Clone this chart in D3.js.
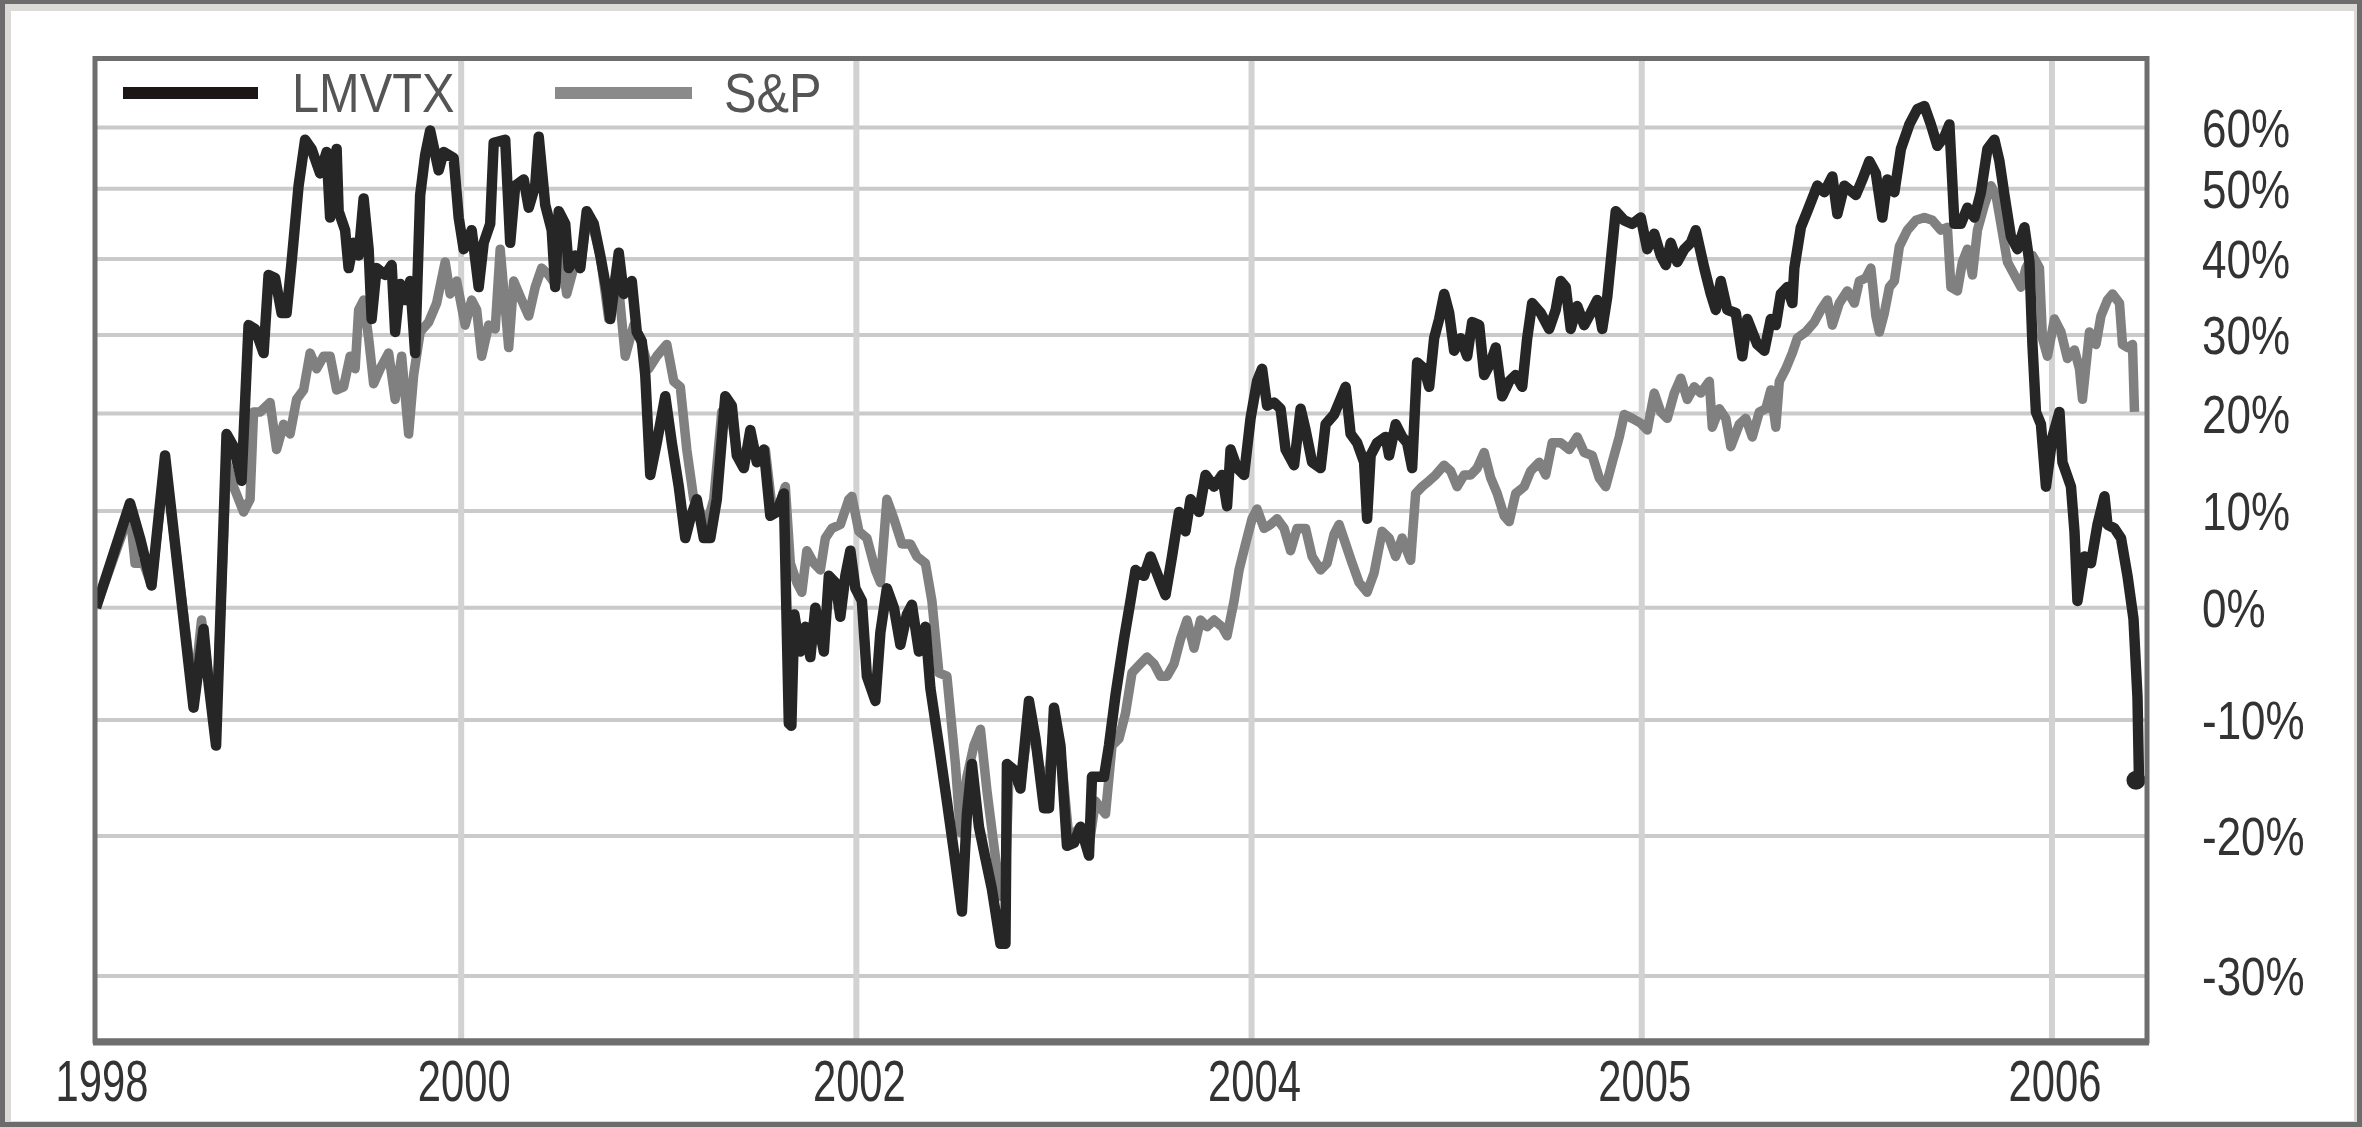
<!DOCTYPE html>
<html><head><meta charset="utf-8">
<script src="https://cdn.jsdelivr.net/npm/d3@7"></script>
<style>html,body{margin:0;padding:0;background:#fff;} svg{display:block;}</style>
</head><body>
<svg id="chart" width="2362" height="1127"></svg>
<script>
// ---------- data ----------
const seriesNames = ["LMVTX", "S&P"];
// x is measured in weeks from the start of the chart
const xTickWeeks = [0, 73, 152, 231, 309, 391];
const xTickLabels = ["1998", "2000", "2002", "2004", "2005", "2006"];
const yTickValues = [60, 50, 40, 30, 20, 10, 0, -10, -20, -30];
const yTickLabels = ["60%", "50%", "40%", "30%", "20%", "10%", "0%", "-10%", "-20%", "-30%"];

// [week, cumulative return %]
const lmvtx = [
[0,0],[6.8,10.8],[8.8,7.2],[11.1,2.3],[13.8,15.7],[19.5,-8.9],[21.5,-1.9],[22.5,-6.7],[24.0,-12.2],
[26.1,17.9],[27.5,16.6],[29.1,13.1],[30.5,31.3],[31.8,30.8],[33.5,27.7],[34.5,37.9],[35.8,37.5],
[37.1,32.9],[38.1,32.9],[39.1,39.6],[40.5,50.5],[41.8,58],[43.1,56.5],[44.8,52.5],[46.1,56],
[46.8,45.9],[48.1,56.5],[48.5,46.8],[49.8,44.1],[50.5,38.8],[51.5,42.3],[52.5,40.5],[53.5,48.6],
[54.5,41.4],[55.1,32.1],[56.1,38.8],[57.8,37.9],[59.1,39.2],[59.8,30.4],[60.8,36.7],[61.8,34.6],
[62.8,37.1],[63.8,27.7],[64.8,49.1],[65.8,55.5],[66.8,59.5],[68.5,53],[69.5,56],[71.5,55],
[72.5,45.9],[73.5,41.4],[75.1,44.1],[76.5,36.3],[77.5,42.3],[78.8,45],[79.5,57.5],[81.8,58],
[82.8,42.3],[83.8,50.5],[85.5,51.5],[86.5,47.3],[87.8,50.5],[88.5,58.5],[89.8,47.7],[91.1,44.1],
[91.8,36.3],[92.5,46.8],[93.8,45],[94.5,38.8],[95.8,40.5],[96.8,38.8],[98.1,46.8],[99.5,45],
[100.8,40.5],[102.1,35.8],[102.8,32.1],[104.5,40.9],[105.5,35.4],[107.1,37.1],[108.1,30.4],
[109.1,29.2],[109.8,24.9],[110.8,13.7],[112.1,17],[113.8,22.2],[115.1,17],[116.5,12.5],[117.8,7.2],
[118.8,9.2],[120.1,11.2],[121.5,7.2],[122.8,7.2],[124.1,11.2],[125.8,22.2],[127.1,21],[128.1,15.7],
[129.5,14.4],[130.8,18.3],[132.1,15],[133.5,16.3],[134.8,9.5],[136.1,9.9],[137.5,11.8],[138.5,-10.3],
[139,-10.5],[139.6,-0.6],[140.8,-3.9],[141.8,-1.7],[142.8,-4.4],[143.8,0],[145.5,-3.9],[146.5,3.3],
[147.8,2.6],[148.8,-0.8],[149.8,3.3],[150.8,5.9],[151.8,2],[153.1,0.7],[154.1,-6.1],[155.8,-8.3],
[156.8,-2.2],[158.1,2],[159.5,0],[160.8,-3.3],[162.1,-0.6],[163.1,0.3],[164.5,-3.9],[165.8,-1.7],
[166.8,-7.2],[168.5,-12.2],[170.1,-17],[171.5,-21.1],[173.1,-25.4],[174.1,-18.1],[175.1,-13.8],
[176.5,-19.2],[177.8,-21.6],[179.1,-23.8],[180.8,-27.7],[181.8,-27.7],[182.1,-13.8],[183.5,-14.3],
[184.8,-15.9],[186.5,-8.3],[187.8,-11.6],[189.5,-17.6],[190.5,-17.6],[191.5,-8.9],[192.8,-12.2],
[194.1,-20.7],[195.5,-20.5],[196.8,-19.2],[198.5,-21.4],[199.1,-14.9],[201.5,-14.9],[202.5,-12.2],
[203.8,-7.8],[205.5,-2.8],[206.8,0.7],[207.8,3.9],[209.5,3.3],[210.8,5.3],[212.8,2.6],[213.8,1.3],
[215.1,5.3],[216.5,9.9],[217.8,7.9],[218.8,11.2],[220.5,9.9],[221.8,13.7],[223.5,12.5],[225.1,13.7],
[226.1,10.5],[226.8,16.3],[228.1,14.4],[229.5,13.7],[230.8,19.5],[232.1,24.1],[233.1,25.7],[234.1,21],
[235.5,21.4],[236.8,20.6],[237.8,16.3],[239.5,14.7],[240.8,20.6],[241.8,18.3],[243.1,15],[244.8,14.4],
[245.8,18.9],[247.5,19.9],[248.5,21.4],[249.8,23.4],[250.8,17.9],[252.1,17],[253.5,15],[254.1,9.2],
[254.8,15.7],[256.1,17],[257.8,17.6],[258.5,15.7],[259.8,18.9],[261.1,17.6],[262.1,17],[263.1,14.4],
[264.1,26.5],[265.5,25.7],[266.5,23.4],[267.5,29.6],[268.5,32.1],[269.5,35.4],[270.5,32.9],[271.5,28],
[272.8,29.6],[274.1,27.3],[275.1,31.7],[276.5,31.3],[277.5,24.9],[278.8,26.5],[279.8,28.4],[281.1,22.2],
[282.5,24.1],[283.8,24.9],[285.1,23.4],[286.1,29.6],[287.1,34.2],[288.8,32.9],[290.5,30.8],[291.8,33.3],
[292.8,37.1],[293.8,36.3],[294.8,30.8],[296.1,33.8],[297.5,31.3],[298.8,32.9],[300.1,34.6],[301.1,30.8],
[302.1,35],[303.8,46.8],[305.5,45.5],[307.1,45],[308.8,45.9],[310.1,41.4],[311.5,43.6],[312.8,40.5],
[313.8,39.2],[314.8,42.3],[316.1,39.6],[317.5,41.4],[318.8,42.3],[319.8,44.1],[321.5,38.8],[322.8,35.4],
[323.8,33.3],[324.8,37.1],[326.1,33.3],[327.8,32.9],[329.1,27.3],[330.1,32.1],[331.1,30.4],[332.1,28.8],
[333.5,28],[334.8,32.1],[335.8,31.3],[336.8,35.4],[338.1,36.3],[339.1,34.2],[339.5,38.8],[340.8,44.5],
[342.1,46.8],[344.1,50.5],[345.5,49.5],[347.1,52],[348.1,46.4],[349.5,50.5],[351.8,49.1],[353.1,51.5],
[354.5,54.5],[355.8,52.5],[357.1,45.9],[358.1,51.5],[359.5,49.5],[360.8,56.5],[362.5,60.5],[364.1,63],
[365.5,63.5],[366.8,60.5],[368.1,57],[369.5,58.5],[370.5,60.5],[371.5,45],[372.8,45],[374.1,47.3],
[375.5,45.9],[376.8,49.5],[378.1,56.5],[379.5,58],[380.5,54.5],[381.5,49.1],[382.8,43.2],[384.1,41.4],
[385.5,44.5],[386.5,39.6],[387.1,28.8],[387.8,20.2],[388.8,18.9],[389.8,12.5],[391.1,17.6],[392.5,20.2],
[393.1,15],[394.8,12.5],[395.5,7.9],[396.1,0.7],[397.5,5.3],[398.8,4.6],[400.1,8.6],[401.5,11.5],
[402.1,8.6],[403.5,8.2],[404.8,7.2],[406.1,3.3],[407.3,-1],[408.1,-8],[408.4,-15.2]
];

const sp = [
[0,0],[6.8,9.9],[7.8,4.6],[9.5,4.6],[11.1,2.3],[13.8,15],[19.5,-7.8],[21.1,-1.1],[22.5,-6.1],[24,-10.5],
[26.1,15],[27.5,12.5],[29.5,9.9],[30.8,11.2],[31.5,20.2],[32.8,20.2],[34.8,21.4],[36.1,16.3],[37.5,18.9],
[38.8,17.9],[40.1,21.8],[41.5,23],[42.8,27.7],[44.1,25.7],[45.5,27.3],[46.8,27.3],[48.1,23],[49.5,23.4],
[50.8,27.3],[51.8,25.7],[52.5,33.3],[53.5,34.6],[54.5,29.6],[55.5,23.8],[56.8,25.7],[58.5,27.7],[59.8,21.8],
[61.1,27.3],[62.5,17.9],[63.5,24.9],[64.8,30.4],[66.5,31.7],[68.1,34.2],[69.8,39.6],[70.8,35.4],[72.1,37.1],
[73.8,31.3],[75.1,34.6],[76.1,33.3],[77.1,27.3],[78.5,31.3],[79.8,30.8],[80.8,41.4],[82.5,28.4],[83.5,37.1],
[85.1,34.6],[86.5,32.5],[87.8,36.3],[89.1,38.8],[90.5,37.9],[91.8,36.7],[92.8,41.4],[94.1,35.4],[95.5,38.8],
[96.8,38.8],[98.1,45.9],[99.5,44.1],[100.8,40.5],[102.5,32.1],[104.1,38.8],[105.8,27.3],[107.5,31.3],
[108.8,29.6],[110.5,25.7],[112.1,27.3],[114.1,28.8],[115.5,24.1],[116.8,23.4],[118.1,16.3],[119.5,11.2],
[120.8,9.9],[122.1,8.6],[123.5,11.2],[125.1,20.2],[126.8,20.2],[128.1,16.3],[129.5,15],[130.8,17.6],
[132.1,15.7],[133.8,16.3],[135.1,10.5],[136.5,10.5],[137.8,12.5],[138.8,4.6],[140.1,2.6],[141.1,1.6],
[142.1,5.9],[143.5,4.6],[144.8,3.9],[145.8,7.2],[147.1,8.2],[148.8,8.6],[150.5,11.2],[151.1,11.5],
[152.5,7.9],[154.1,7.2],[155.8,3.9],[156.8,2.6],[158.1,11.2],[159.5,9.2],[161.1,6.6],[162.8,6.6],
[164.1,5.3],[165.8,4.6],[167.1,0.7],[168.5,-5.8],[170.1,-6.1],[171.8,-13.8],[172.8,-19.7],[174.1,-14.9],
[175.5,-12.2],[176.8,-10.8],[178.1,-16.1],[179.5,-20.7],[180.8,-24.3],[181.8,-22.9],[182.5,-14.9],
[184.8,-15.4],[186.8,-9.4],[188.5,-13.8],[190.1,-16.5],[191.5,-10],[193.1,-13.8],[194.5,-20.2],
[196.8,-19.2],[198.5,-20.7],[199.8,-17],[201.8,-18.1],[203.1,-12.2],[204.5,-11.6],[205.8,-9.4],
[207.1,-5.8],[208.8,-5],[210.1,-4.4],[211.5,-5],[212.8,-6.1],[214.1,-6.1],[215.5,-5],[216.8,-2.8],
[218.1,-1.1],[219.5,-3.6],[220.8,-1.1],[222.1,-1.7],[223.5,-1.1],[225.1,-1.7],[226.1,-2.5],[227.5,0.7],
[228.5,3.9],[229.8,6.6],[231.1,9.2],[232.1,10.2],[233.5,8.2],[234.8,8.6],[236.1,9.2],[237.5,8.2],
[238.8,5.9],[240.1,8.2],[241.8,8.2],[243.1,5.3],[244.8,3.9],[246.1,4.6],[247.5,7.6],[248.5,8.6],
[249.8,6.6],[251.1,4.6],[252.5,2.6],[254.1,1.6],[255.5,3.6],[257.1,7.9],[258.5,7.2],[259.8,5.3],
[261.1,7.2],[262.8,4.9],[263.8,11.8],[265.1,12.5],[266.5,13.1],[267.8,13.7],[269.5,14.7],[270.8,14.1],
[272.1,12.5],[273.5,13.7],[274.8,13.7],[276.1,14.4],[277.5,16],[278.8,13.4],[280.1,11.8],[281.5,9.5],
[282.5,8.9],[283.8,11.8],[285.5,12.5],[286.8,14.1],[288.5,15],[289.8,13.7],[291.1,17],[292.8,17],
[294.5,16.3],[296.1,17.6],[297.5,16],[299.1,15.7],[300.5,13.4],[301.8,12.5],[303.1,15],[304.5,17.6],
[305.5,19.9],[307.1,19.5],[308.8,19],[310.1,18.3],[311.5,22.6],[312.8,20.2],[314.1,19.5],[315.5,22.6],
[316.8,24.5],[318.1,21.8],[319.5,23.4],[320.8,22.6],[322.5,24.1],[323.1,18.6],[324.5,20.6],[325.8,19.5],
[326.8,16.6],[328.5,18.9],[329.8,19.5],[331.1,17.6],[332.5,20.2],[333.8,20.6],[334.8,23],[335.8,18.6],
[336.5,24.1],[337.8,25.7],[339.1,27.7],[340.1,29.6],[341.8,30.4],[343.5,31.7],[344.8,33.3],[346.1,34.6],
[347.1,31.3],[348.5,34.2],[350.1,35.8],[351.5,34.2],[352.5,37.1],[353.8,37.5],[354.8,38.8],[355.8,32.5],
[356.5,30.4],[357.5,32.9],[358.5,36.3],[359.5,37.1],[360.5,41.8],[362.1,44.1],[363.8,45.5],[365.5,45.9],
[367.1,45.5],[368.8,44.1],[370.1,44.5],[370.8,36.3],[372.1,35.8],[373.1,39.6],[374.1,41.4],[375.1,37.9],
[376.1,44.1],[377.5,47.7],[378.8,50.5],[379.8,49.1],[380.8,45],[382.1,39.6],[383.5,37.9],[384.8,36.3],
[385.8,38.8],[387.1,40.5],[388.5,38.8],[389.1,29.6],[390.1,27.3],[391.5,32.1],[392.8,30.4],[394.1,27],
[395.5,28.1],[396.5,25.7],[397.1,21.8],[398.5,30.4],[399.8,28.8],[400.8,32.5],[402.1,34.6],[403.1,35.4],
[404.5,34.2],[405.1,28.8],[406.1,28.4],[407.1,28.8],[407.5,20.2]
];

// ---------- layout ----------
const W = 2362, H = 1127;
const plot = { left: 96, right: 2147, top: 58.5, bottom: 1041 };
const gridPixelY = [127.5, 188.7, 259, 335, 413.5, 511, 607.7, 720, 836, 976];
const FONT = "'Liberation Sans', Arial, Helvetica, sans-serif";

const svg = d3.select("#chart").attr("width", W).attr("height", H);

// outer frame
svg.append("rect").attr("x", 0).attr("y", 0).attr("width", W).attr("height", H).attr("fill", "#6c6c6c");
svg.append("rect").attr("x", 5).attr("y", 4).attr("width", W - 10).attr("height", H - 9).attr("fill", "#dcdad6");
svg.append("rect").attr("x", 11).attr("y", 11).attr("width", W - 19).attr("height", H - 17).attr("fill", "#ffffff");

const x = d3.scaleLinear().domain([0, 410]).range([plot.left, plot.right]);
const y = d3.scaleLinear().domain(yTickValues).range(gridPixelY);

// horizontal grid
svg.append("g").selectAll("line").data(yTickValues).join("line")
  .attr("x1", plot.left).attr("x2", plot.right)
  .attr("y1", d => y(d)).attr("y2", d => y(d))
  .attr("stroke", "#cacaca").attr("stroke-width", 4);

// vertical grid
svg.append("g").selectAll("line").data(xTickWeeks.slice(1)).join("line")
  .attr("x1", d => x(d)).attr("x2", d => x(d))
  .attr("y1", plot.top).attr("y2", plot.bottom)
  .attr("stroke", "#d2d2d2").attr("stroke-width", 6);

// clip
svg.append("clipPath").attr("id", "clip").append("rect")
  .attr("x", plot.left).attr("y", plot.top)
  .attr("width", plot.right - plot.left).attr("height", plot.bottom - plot.top);

const line = d3.line().x(d => x(d[0])).y(d => y(d[1])).curve(d3.curveLinear);
const gLines = svg.append("g").attr("clip-path", "url(#clip)");
gLines.append("path").datum(sp).attr("d", line)
  .attr("fill", "none").attr("stroke", "#808080").attr("stroke-width", 9.5)
  .attr("stroke-linejoin", "round").attr("stroke-linecap", "butt");
gLines.append("path").datum(lmvtx).attr("d", line)
  .attr("fill", "none").attr("stroke", "#262626").attr("stroke-width", 10.5)
  .attr("stroke-linejoin", "round").attr("stroke-linecap", "butt");
const last = lmvtx[lmvtx.length - 1];
gLines.append("circle").attr("cx", x(last[0]) - 3).attr("cy", y(last[1])).attr("r", 9.5).attr("fill", "#262626");

// plot border
svg.append("rect").attr("x", plot.left - 1).attr("y", plot.top)
  .attr("width", plot.right - plot.left + 1).attr("height", plot.bottom - plot.top)
  .attr("fill", "none").attr("stroke", "#6e6e6e").attr("stroke-width", 5);
svg.append("line").attr("x1", plot.left - 3).attr("x2", plot.right + 2)
  .attr("y1", plot.bottom + 1).attr("y2", plot.bottom + 1)
  .attr("stroke", "#6e6e6e").attr("stroke-width", 7);

// helper: condensed text
function squeeze(sel, ratio) {
  sel.each(function () {
    const len = this.getComputedTextLength();
    d3.select(this).attr("textLength", len * ratio).attr("lengthAdjust", "spacingAndGlyphs");
  });
}

// bottom axis labels
svg.append("g").selectAll("text").data(xTickWeeks).join("text")
  .attr("x", (d, i) => x(d) + (i === 0 ? 6 : 3)).attr("y", 1101)
  .attr("text-anchor", "middle")
  .attr("font-family", FONT).attr("font-size", 58).attr("fill", "#333")
  .text((d, i) => xTickLabels[i])
  .call(squeeze, 0.72);

// right axis labels
svg.append("g").selectAll("text").data(yTickValues).join("text")
  .attr("x", 2202).attr("y", d => y(d) + 19)
  .attr("text-anchor", "start")
  .attr("font-family", FONT).attr("font-size", 53).attr("fill", "#333")
  .text((d, i) => yTickLabels[i])
  .call(squeeze, 0.83);

// legend
const legendItems = [
  { name: seriesNames[0], color: "#1c1616", x0: 123, x1: 258, tx: 292 },
  { name: seriesNames[1], color: "#8a8a8a", x0: 555, x1: 692, tx: 724 }
];
const lg = svg.append("g");
lg.selectAll("line").data(legendItems).join("line")
  .attr("x1", d => d.x0).attr("x2", d => d.x1).attr("y1", 93).attr("y2", 93)
  .attr("stroke", d => d.color).attr("stroke-width", 12);
lg.selectAll("text").data(legendItems).join("text")
  .attr("x", d => d.tx).attr("y", 112)
  .attr("font-family", FONT).attr("font-size", 56).attr("fill", "#555")
  .text(d => d.name)
  .call(squeeze, 0.87);
</script>
</body></html>
